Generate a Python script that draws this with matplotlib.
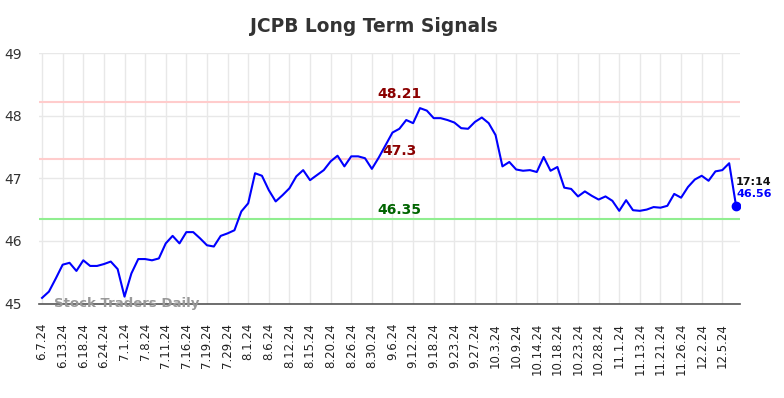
import numpy as np
import matplotlib.pyplot as plt

# closing values, one per trading day
prices = [
    45.09, 45.19, 45.40, 45.62, 45.65, 45.52, 45.69, 45.60, 45.60, 45.63,
    45.67, 45.55, 45.11, 45.48, 45.71, 45.71, 45.69, 45.72, 45.96, 46.08,
    45.96, 46.14, 46.14, 46.04, 45.93, 45.91, 46.08, 46.12, 46.17, 46.47,
    46.60, 47.08, 47.04, 46.81, 46.63, 46.73, 46.84, 47.03, 47.13, 46.97,
    47.05, 47.13, 47.27, 47.36, 47.19, 47.35, 47.35, 47.32, 47.15, 47.33,
    47.53, 47.73, 47.79, 47.93, 47.88, 48.12, 48.08, 47.96, 47.96, 47.93,
    47.89, 47.80, 47.79, 47.90, 47.97, 47.88, 47.69, 47.19, 47.26, 47.14,
    47.12, 47.13, 47.10, 47.34, 47.12, 47.18, 46.85, 46.83, 46.71, 46.79,
    46.72, 46.66, 46.71, 46.64, 46.48, 46.65, 46.49, 46.48, 46.50, 46.54,
    46.53, 46.56, 46.75, 46.69, 46.86, 46.98, 47.04, 46.96, 47.11, 47.13,
    47.24, 46.56,
]
tick_labels = [
    "6.7.24", "6.13.24", "6.18.24", "6.24.24", "7.1.24", "7.8.24", "7.11.24",
    "7.16.24", "7.19.24", "7.29.24", "8.1.24", "8.6.24", "8.12.24", "8.15.24",
    "8.20.24", "8.26.24", "8.30.24", "9.6.24", "9.12.24", "9.18.24", "9.23.24",
    "9.27.24", "10.3.24", "10.9.24", "10.14.24", "10.18.24", "10.23.24",
    "10.28.24", "11.1.24", "11.13.24", "11.21.24", "11.26.24", "12.2.24",
    "12.5.24",
]
tick_step = 3
resist_hi = 48.21
resist_lo = 47.3
support = 46.35
last_time = "17:14"
last_price = 46.56

x = np.arange(len(prices))

fig = plt.figure(figsize=(7.84, 3.98), dpi=100)
ax = fig.add_axes([0.0497, 0.2374, 0.8944, 0.6294])

ax.grid(True, color="#e8e8e8", linewidth=1)
ax.set_axisbelow(True)

ax.axhline(resist_hi, color="#ffcccc", linewidth=1.5, zorder=1)
ax.axhline(resist_lo, color="#ffcccc", linewidth=1.5, zorder=1)
ax.axhline(support, color="#90ee90", linewidth=1.5, zorder=1)

ax.plot(x, prices, color="#0000ff", linewidth=1.5, zorder=3)
ax.plot(x[-1], prices[-1], "o", color="#0000ff", markersize=6, zorder=4)

mid = 52
ax.text(mid, resist_hi + 0.03, f"{resist_hi}", color="#8b0000",
        fontsize=10, fontweight="bold", ha="center", va="bottom")
ax.text(mid, resist_lo + 0.03, f"{resist_lo}", color="#8b0000",
        fontsize=10, fontweight="bold", ha="center", va="bottom")
ax.text(mid, support + 0.03, f"{support}", color="#006400",
        fontsize=10, fontweight="bold", ha="center", va="bottom")

ax.text(x[-1], prices[-1] + 0.38, last_time, color="#111111",
        fontsize=8, fontweight="bold", ha="left", va="center")
ax.text(x[-1], prices[-1] + 0.19, f"{last_price}", color="#0000ff",
        fontsize=8, fontweight="bold", ha="left", va="center")

ax.text(1.7, 45.0, "Stock Traders Daily", color="#999999", fontsize=9.5,
        fontweight="bold", ha="left", va="center", zorder=5)

ax.set_xlim(-0.45, 101.6)
ax.set_ylim(45, 49)
ax.set_yticks([45, 46, 47, 48, 49])
ax.set_xticks(x[::tick_step][:len(tick_labels)])
ax.set_xticklabels(tick_labels, rotation=90, fontsize=8.5, color="#222222")
ax.tick_params(axis="x", length=0, pad=14)
ax.tick_params(axis="y", length=0, pad=12, labelsize=10, labelcolor="#333333")

for s in ["top", "left", "right"]:
    ax.spines[s].set_visible(False)
ax.spines["bottom"].set_color("#555555")
ax.spines["bottom"].set_linewidth(1.2)

fig.text(374 / 784, 1 - 27 / 398, "JCPB Long Term Signals", ha="center",
         va="center", fontsize=13.4, fontweight="bold", color="#333333")

fig.savefig("out.png", dpi=100)
